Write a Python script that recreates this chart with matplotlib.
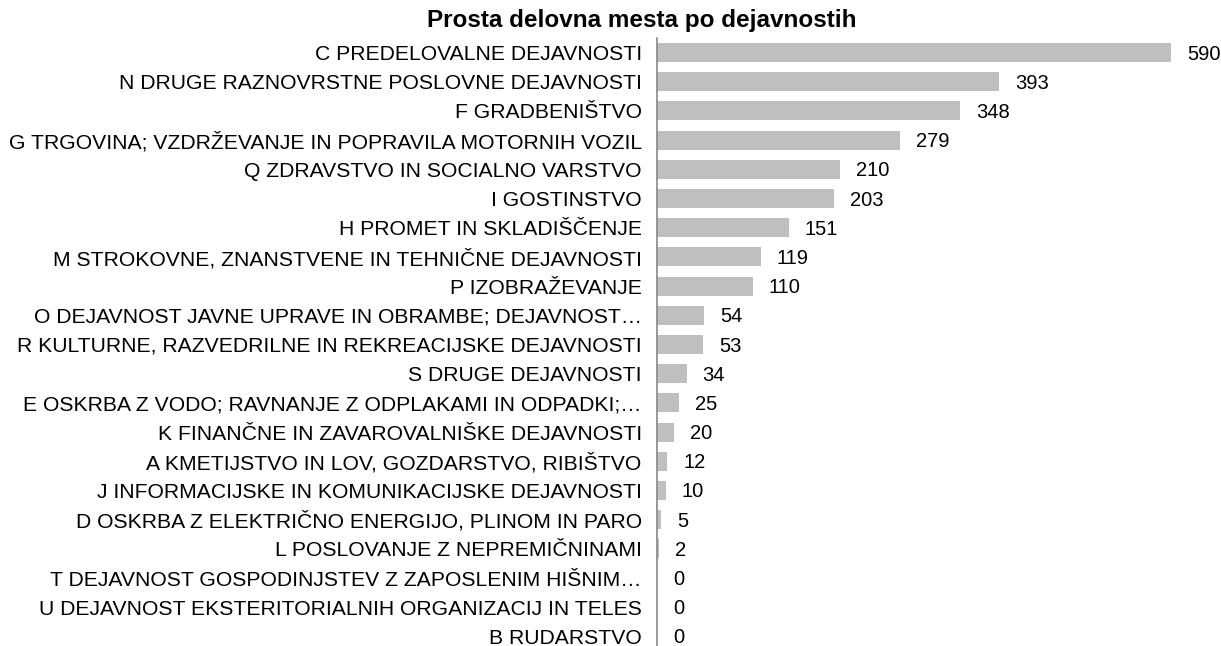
import matplotlib.pyplot as plt
import numpy as np

plt.rcParams['font.family'] = ['Liberation Sans', 'DejaVu Sans']

# categories, top to bottom
categories = [
    "C PREDELOVALNE DEJAVNOSTI",
    "N DRUGE RAZNOVRSTNE POSLOVNE DEJAVNOSTI",
    "F GRADBENIŠTVO",
    "G TRGOVINA; VZDRŽEVANJE IN POPRAVILA MOTORNIH VOZIL",
    "Q ZDRAVSTVO IN SOCIALNO VARSTVO",
    "I GOSTINSTVO",
    "H PROMET IN SKLADIŠČENJE",
    "M STROKOVNE, ZNANSTVENE IN TEHNIČNE DEJAVNOSTI",
    "P IZOBRAŽEVANJE",
    "O DEJAVNOST JAVNE UPRAVE IN OBRAMBE; DEJAVNOST…",
    "R KULTURNE, RAZVEDRILNE IN REKREACIJSKE DEJAVNOSTI",
    "S DRUGE DEJAVNOSTI",
    "E OSKRBA Z VODO; RAVNANJE Z ODPLAKAMI IN ODPADKI;…",
    "K FINANČNE IN ZAVAROVALNIŠKE DEJAVNOSTI",
    "A KMETIJSTVO IN LOV, GOZDARSTVO, RIBIŠTVO",
    "J INFORMACIJSKE IN KOMUNIKACIJSKE DEJAVNOSTI",
    "D OSKRBA Z ELEKTRIČNO ENERGIJO, PLINOM IN PARO",
    "L POSLOVANJE Z NEPREMIČNINAMI",
    "T DEJAVNOST GOSPODINJSTEV Z ZAPOSLENIM HIŠNIM…",
    "U DEJAVNOST EKSTERITORIALNIH ORGANIZACIJ IN TELES",
    "B RUDARSTVO",
]
values = [590, 393, 348, 279, 210, 203, 151, 119, 110, 54, 53, 34, 25, 20, 12, 10, 5, 2, 0, 0, 0]

W, H = 1221, 646
fig = plt.figure(figsize=(W / 100, H / 100), dpi=100)
# axes placed in pixel terms: left spine at x=657, rows from y=38 to y=651
ax = fig.add_axes([657 / W, (H - 651) / H, (W - 657) / W, (651 - 38) / H])

y = np.arange(len(categories))
ax.barh(y, values, height=0.65, color='#BFBFBF')
ax.set_ylim(len(categories) - 0.5, -0.5)
ax.set_xlim(0, (W - 657) / ((1171 - 657) / 590))

ax.set_yticks(y)
ax.set_yticklabels(categories, fontsize=15.2)
ax.tick_params(axis='y', length=0, pad=11)
ax.set_xticks([])

for s in ['top', 'right', 'bottom']:
    ax.spines[s].set_visible(False)
ax.spines['left'].set_color('#868686')
ax.spines['left'].set_linewidth(1.2)

for yi, v in zip(y, values):
    ax.annotate(str(v), (v, yi), xytext=(16, -1.5), textcoords='offset pixels',
                ha='left', va='center', fontsize=14.5)

fig.text(642 / W, 1 - 20 / H, "Prosta delovna mesta po dejavnostih",
         ha='center', va='center', fontsize=17.5, fontweight='bold')

fig.savefig('out.png', dpi=100)
